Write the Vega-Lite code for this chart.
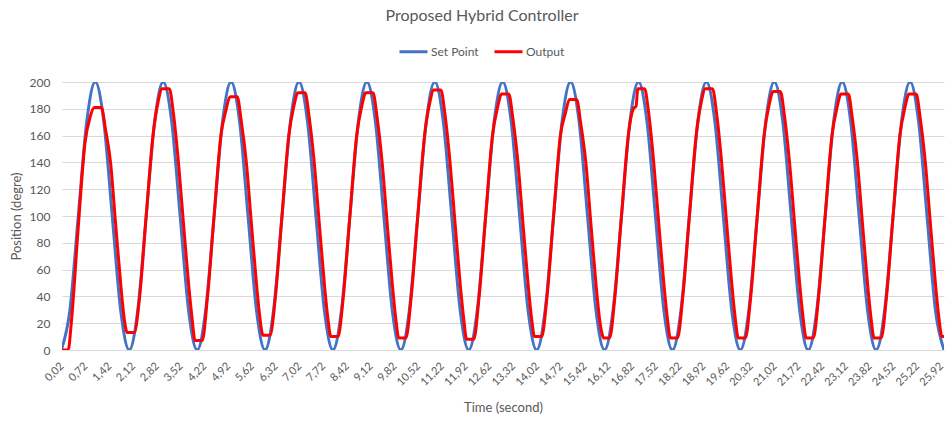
{
  "$schema": "https://vega.github.io/schema/vega-lite/v6.json",
  "width": 882,
  "height": 268,
  "autosize": {"type": "none"},
  "padding": {"left": 62, "top": 82, "right": 1, "bottom": 71},
  "background": "white",
  "title": {"text": "Proposed Hybrid Controller", "font": "Lato", "fontSize": 16, "fontWeight": "normal", "color": "#595959", "anchor": "middle", "frame": "group", "dx": -21, "offset": 12},
  "config": {
    "view": {"stroke": null},
    "font": "Lato",
    "axis": {"labelFont": "Lato", "titleFont": "Lato", "labelColor": "#595959", "titleColor": "#595959", "titleFontWeight": "normal", "ticks": false, "gridColor": "#D9D9D9", "gridWidth": 1}
  },
  "datasets": {
    "sp": [
      {"t":0,"v":0},{"t":0.25,"v":29.3},{"t":0.5,"v":100},{"t":0.75,"v":170.7},{"t":1,"v":200},{"t":1.25,"v":170.7},{"t":1.5,"v":100},{"t":1.75,"v":29.3},
      {"t":2,"v":0},{"t":2.25,"v":29.3},{"t":2.5,"v":100},{"t":2.75,"v":170.7},{"t":3,"v":200},{"t":3.25,"v":170.7},{"t":3.5,"v":100},{"t":3.75,"v":29.3},
      {"t":4,"v":0},{"t":4.25,"v":29.3},{"t":4.5,"v":100},{"t":4.75,"v":170.7},{"t":5,"v":200},{"t":5.25,"v":170.7},{"t":5.5,"v":100},{"t":5.75,"v":29.3},
      {"t":6,"v":0},{"t":6.25,"v":29.3},{"t":6.5,"v":100},{"t":6.75,"v":170.7},{"t":7,"v":200},{"t":7.25,"v":170.7},{"t":7.5,"v":100},{"t":7.75,"v":29.3},
      {"t":8,"v":0},{"t":8.25,"v":29.3},{"t":8.5,"v":100},{"t":8.75,"v":170.7},{"t":9,"v":200},{"t":9.25,"v":170.7},{"t":9.5,"v":100},{"t":9.75,"v":29.3},
      {"t":10,"v":0},{"t":10.25,"v":29.3},{"t":10.5,"v":100},{"t":10.75,"v":170.7},{"t":11,"v":200},{"t":11.25,"v":170.7},{"t":11.5,"v":100},{"t":11.75,"v":29.3},
      {"t":12,"v":0},{"t":12.25,"v":29.3},{"t":12.5,"v":100},{"t":12.75,"v":170.7},{"t":13,"v":200},{"t":13.25,"v":170.7},{"t":13.5,"v":100},{"t":13.75,"v":29.3},
      {"t":14,"v":0},{"t":14.25,"v":29.3},{"t":14.5,"v":100},{"t":14.75,"v":170.7},{"t":15,"v":200},{"t":15.25,"v":170.7},{"t":15.5,"v":100},{"t":15.75,"v":29.3},
      {"t":16,"v":0},{"t":16.25,"v":29.3},{"t":16.5,"v":100},{"t":16.75,"v":170.7},{"t":17,"v":200},{"t":17.25,"v":170.7},{"t":17.5,"v":100},{"t":17.75,"v":29.3},
      {"t":18,"v":0},{"t":18.25,"v":29.3},{"t":18.5,"v":100},{"t":18.75,"v":170.7},{"t":19,"v":200},{"t":19.25,"v":170.7},{"t":19.5,"v":100},{"t":19.75,"v":29.3},
      {"t":20,"v":0},{"t":20.25,"v":29.3},{"t":20.5,"v":100},{"t":20.75,"v":170.7},{"t":21,"v":200},{"t":21.25,"v":170.7},{"t":21.5,"v":100},{"t":21.75,"v":29.3},
      {"t":22,"v":0},{"t":22.25,"v":29.3},{"t":22.5,"v":100},{"t":22.75,"v":170.7},{"t":23,"v":200},{"t":23.25,"v":170.7},{"t":23.5,"v":100},{"t":23.75,"v":29.3},
      {"t":24,"v":0},{"t":24.25,"v":29.3},{"t":24.5,"v":100},{"t":24.75,"v":170.7},{"t":25,"v":200},{"t":25.25,"v":170.7},{"t":25.5,"v":100},{"t":25.75,"v":29.3},
      {"t":26,"v":0}
    ],
    "out": [
      {"t":0,"v":0},{"t":0.2,"v":0},{"t":0.3,"v":22},{"t":0.5,"v":92},{"t":0.7,"v":155},{"t":0.85,"v":174},{"t":0.97,"v":181},{"t":1.18,"v":181},{"t":1.3,"v":165},{"t":1.45,"v":140},{"t":1.6,"v":94},{"t":1.75,"v":49},{"t":1.85,"v":24},{"t":1.94,"v":13},{"t":2.15,"v":13},
      {"t":2.3,"v":38},{"t":2.5,"v":100},{"t":2.7,"v":160},{"t":2.85,"v":185},{"t":2.97,"v":195},{"t":3.18,"v":195},{"t":3.3,"v":177},{"t":3.45,"v":140},{"t":3.6,"v":94},{"t":3.75,"v":49},{"t":3.85,"v":24},{"t":3.94,"v":7},{"t":4.15,"v":7},
      {"t":4.3,"v":38},{"t":4.5,"v":100},{"t":4.7,"v":160},{"t":4.85,"v":179},{"t":4.97,"v":189},{"t":5.18,"v":189},{"t":5.3,"v":171},{"t":5.45,"v":140},{"t":5.6,"v":94},{"t":5.75,"v":49},{"t":5.85,"v":24},{"t":5.94,"v":11},{"t":6.15,"v":11},
      {"t":6.3,"v":38},{"t":6.5,"v":100},{"t":6.7,"v":160},{"t":6.85,"v":182},{"t":6.97,"v":192},{"t":7.18,"v":192},{"t":7.3,"v":174},{"t":7.45,"v":140},{"t":7.6,"v":94},{"t":7.75,"v":49},{"t":7.85,"v":24},{"t":7.94,"v":10},{"t":8.15,"v":10},
      {"t":8.3,"v":38},{"t":8.5,"v":100},{"t":8.7,"v":160},{"t":8.85,"v":182},{"t":8.97,"v":192},{"t":9.18,"v":192},{"t":9.3,"v":174},{"t":9.45,"v":140},{"t":9.6,"v":94},{"t":9.75,"v":49},{"t":9.85,"v":24},{"t":9.94,"v":9},{"t":10.15,"v":9},
      {"t":10.3,"v":38},{"t":10.5,"v":100},{"t":10.7,"v":160},{"t":10.85,"v":184},{"t":10.97,"v":194},{"t":11.18,"v":194},{"t":11.3,"v":176},{"t":11.45,"v":140},{"t":11.6,"v":94},{"t":11.75,"v":49},{"t":11.85,"v":24},{"t":11.94,"v":8},{"t":12.15,"v":8},
      {"t":12.3,"v":38},{"t":12.5,"v":100},{"t":12.7,"v":160},{"t":12.85,"v":181},{"t":12.97,"v":191},{"t":13.18,"v":191},{"t":13.3,"v":173},{"t":13.45,"v":140},{"t":13.6,"v":94},{"t":13.75,"v":49},{"t":13.85,"v":24},{"t":13.94,"v":10},{"t":14.15,"v":10},
      {"t":14.3,"v":38},{"t":14.5,"v":100},{"t":14.7,"v":160},{"t":14.85,"v":177},{"t":14.97,"v":187},{"t":15.18,"v":187},{"t":15.3,"v":169},{"t":15.45,"v":140},{"t":15.6,"v":94},{"t":15.75,"v":49},{"t":15.85,"v":24},{"t":15.92,"v":13},{"t":15.97,"v":9},{"t":16.15,"v":9},
      {"t":16.3,"v":38},{"t":16.5,"v":100},{"t":16.7,"v":160},{"t":16.85,"v":180},{"t":16.93,"v":182},{"t":16.98,"v":195},{"t":17.18,"v":195},{"t":17.3,"v":177},{"t":17.45,"v":140},{"t":17.6,"v":94},{"t":17.75,"v":49},{"t":17.85,"v":24},{"t":17.94,"v":9},{"t":18.15,"v":9},
      {"t":18.3,"v":38},{"t":18.5,"v":100},{"t":18.7,"v":160},{"t":18.85,"v":185},{"t":18.97,"v":195},{"t":19.18,"v":195},{"t":19.3,"v":177},{"t":19.45,"v":140},{"t":19.6,"v":94},{"t":19.75,"v":49},{"t":19.85,"v":24},{"t":19.94,"v":9},{"t":20.15,"v":9},
      {"t":20.3,"v":38},{"t":20.5,"v":100},{"t":20.7,"v":160},{"t":20.85,"v":183},{"t":20.97,"v":193},{"t":21.18,"v":193},{"t":21.3,"v":175},{"t":21.45,"v":140},{"t":21.6,"v":94},{"t":21.75,"v":49},{"t":21.85,"v":24},{"t":21.94,"v":9},{"t":22.15,"v":9},
      {"t":22.3,"v":38},{"t":22.5,"v":100},{"t":22.7,"v":160},{"t":22.85,"v":181},{"t":22.97,"v":191},{"t":23.18,"v":191},{"t":23.3,"v":173},{"t":23.45,"v":140},{"t":23.6,"v":94},{"t":23.75,"v":49},{"t":23.85,"v":24},{"t":23.94,"v":9},{"t":24.15,"v":9},
      {"t":24.3,"v":38},{"t":24.5,"v":100},{"t":24.7,"v":160},{"t":24.85,"v":181},{"t":24.97,"v":191},{"t":25.18,"v":191},{"t":25.3,"v":173},{"t":25.45,"v":140},{"t":25.6,"v":94},{"t":25.75,"v":49},{"t":25.85,"v":24},{"t":25.94,"v":10},{"t":26,"v":10}
    ]
  },
  "encoding": {
    "x": {
      "field": "t", "type": "quantitative",
      "scale": {"domain": [0.02, 26], "nice": false, "zero": false},
      "axis": {
        "title": "Time (second)", "titleFontSize": 13, "titlePadding": 14,
        "values": [0.02,0.72,1.42,2.12,2.82,3.52,4.22,4.92,5.62,6.32,7.02,7.72,8.42,9.12,9.82,10.52,11.22,11.92,12.62,13.32,14.02,14.72,15.42,16.12,16.82,17.52,18.22,18.92,19.62,20.32,21.02,21.72,22.42,23.12,23.82,24.52,25.22,25.92],
        "labelExpr": "replace(format(datum.value, '.2f'), '.', ',')",
        "labelAngle": -45, "labelAlign": "right", "labelBaseline": "middle", "labelFontSize": 11, "labelPadding": 14, "labelOverlap": false,
        "grid": false, "domain": true, "domainColor": "#D9D9D9", "domainWidth": 1
      }
    },
    "y": {
      "field": "v", "type": "quantitative",
      "scale": {"domain": [0, 200], "nice": false},
      "axis": {"title": "Position (degre)", "titleFontSize": 13, "titlePadding": 6, "values": [0,20,40,60,80,100,120,140,160,180,200], "labelFontSize": 12, "labelPadding": 12, "domain": false, "grid": true}
    }
  },
  "layer": [
    {
      "data": {"name": "sp"},
      "mark": {"type": "line", "interpolate": "monotone", "strokeWidth": 3, "clip": true},
      "encoding": {
        "color": {
          "datum": "Set Point", "type": "nominal",
          "scale": {"domain": ["Set Point", "Output"], "range": ["#4472C4", "#FF0000"]},
          "legend": {"title": null, "orient": "none", "legendX": 336, "legendY": -46, "direction": "horizontal", "symbolType": "stroke", "symbolStrokeWidth": 3, "symbolSize": 784, "labelFontSize": 12, "labelColor": "#595959", "labelFont": "Lato", "columnPadding": 9, "labelOffset": 2}
        }
      }
    },
    {
      "data": {"name": "out"},
      "mark": {"type": "line", "interpolate": "monotone", "strokeWidth": 3, "clip": true},
      "encoding": {"color": {"datum": "Output", "type": "nominal"}}
    }
  ]
}
